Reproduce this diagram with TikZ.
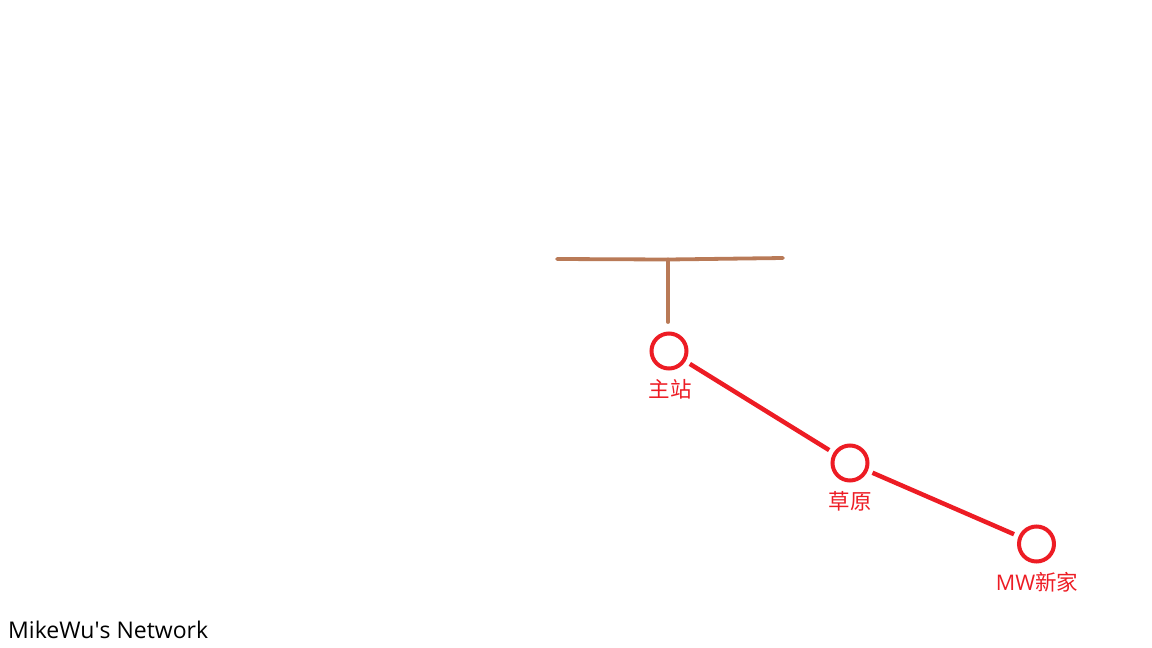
\documentclass[tikz,border=0pt]{standalone}
\usepackage{fontspec}
\setmainfont{Open Sans}
\newfontfamily\cjk{Noto Sans CJK SC}
\definecolor{netred}{HTML}{ED1C24}
\definecolor{netbrown}{HTML}{B97A57}
\begin{document}
\begin{tikzpicture}[x=1pt,y=-1pt,
  station/.style={circle,draw=netred,line width=4pt,minimum size=35pt,inner sep=0pt},
  link/.style={draw=netred,line width=4.5pt,shorten <=5pt,shorten >=5pt},
  trunk/.style={draw=netbrown,line width=3.8pt,line cap=round},
  lbl/.style={text=netred,font=\cjk\fontsize{21.5}{24}\selectfont,inner sep=0pt}]
\useasboundingbox (0,0) rectangle (1152,648);
% brown T
\coordinate (tl) at (557,259);
\coordinate (tm) at (668,259.5);
\coordinate (tr) at (783,258);
\coordinate (tb) at (668,322);
\draw[trunk] (tl) -- (tm) -- (tr);
\draw[trunk] (tm) -- (tb);
% stations
\node[station] (zz) at (669,351) {};
\node[station] (cy) at (850,463) {};
\node[station] (mw) at (1036.5,544) {};
\node[lbl] (zzl) at (670,389) {主站};
\node[lbl] (cyl) at (850,501) {草原};
\node[lbl] (mwl) at (1037,582) {{\rmfamily MW}新家};
\draw[link] (zz) -- (cy);
\draw[link] (cy) -- (mw);
\node[anchor=west,inner sep=0pt,font=\fontsize{23}{26}\selectfont] (title) at (8,630) {MikeWu\textquotesingle s Network};
\end{tikzpicture}
\end{document}
